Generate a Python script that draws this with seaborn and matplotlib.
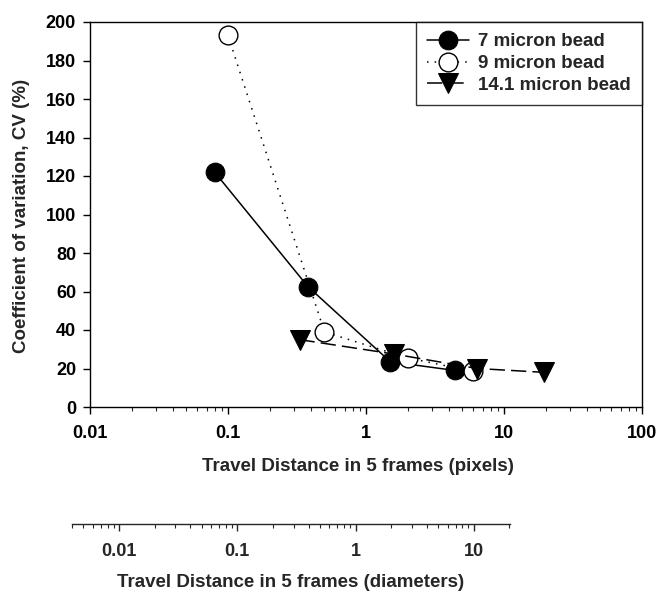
import numpy as np
import pandas as pd
import matplotlib
matplotlib.use("Agg")
import matplotlib.pyplot as plt
import seaborn as sns
from matplotlib.ticker import LogLocator, NullFormatter

sns.set_style("ticks")
plt.rcParams['font.family'] = ['Liberation Sans', 'DejaVu Sans']
plt.rcParams['font.weight'] = 'bold'

# data
x7 = [0.08, 0.38, 1.5, 4.4]
y7 = [122, 62.5, 23.5, 19]
x9 = [0.1, 0.5, 2.0, 6.0]
y9 = [193, 39, 25.5, 18.5]
x14 = [0.33, 1.6, 6.4, 19.5]
y14 = [35, 27.5, 20, 18]
labels = ["7 micron bead", "9 micron bead", "14.1 micron bead"]
yticks = [0, 20, 40, 60, 80, 100, 120, 140, 160, 180, 200]
xticks_px = [0.01, 0.1, 1, 10, 100]
xticks_px_labels = ["0.01", "0.1", "1", "10", "100"]
xticks_diam = [0.01, 0.1, 1, 10]
xticks_diam_labels = ["0.01", "0.1", "1", "10"]

TICK_FS = 13
LABEL_FS = 13.5
LEG_FS = 13.5

fig = plt.figure(figsize=(6.58, 5.93), dpi=100)
ax = fig.add_axes([90/658, (593-407)/593, 552/658, 385/593])

df7 = pd.DataFrame({"x": x7, "y": y7})
df9 = pd.DataFrame({"x": x9, "y": y9})
df14 = pd.DataFrame({"x": x14, "y": y14})

sns.lineplot(data=df7, x="x", y="y", ax=ax, color="black", lw=1.1, marker="o",
             markersize=13.5, markerfacecolor="black", markeredgecolor="black",
             linestyle="-", label=labels[0], sort=False, estimator=None)
sns.lineplot(data=df9, x="x", y="y", ax=ax, color="black", lw=1.1, marker="o",
             markersize=13.5, markerfacecolor="white", markeredgecolor="black",
             markeredgewidth=1.0, linestyle=(0, (1, 4)), label=labels[1],
             sort=False, estimator=None)
sns.lineplot(data=df14, x="x", y="y", ax=ax, color="black", lw=1.1, marker="v",
             markersize=14, markerfacecolor="black", markeredgecolor="black",
             linestyle=(0, (10, 4)), label=labels[2], sort=False, estimator=None)

ax.set_xscale("log")
ax.set_xlim(0.01, 100)
ax.set_ylim(0, 200)
ax.set_yticks(yticks)
ax.set_yticklabels([str(v) for v in yticks])
ax.set_xticks(xticks_px)
ax.set_xticklabels(xticks_px_labels)
ax.xaxis.set_minor_locator(LogLocator(base=10, subs=np.arange(2, 10)))
ax.xaxis.set_minor_formatter(NullFormatter())
for s in ax.spines.values():
    s.set_visible(True)
    s.set_linewidth(1.0)
    s.set_color("black")
ax.tick_params(axis="both", which="major", direction="out", length=5, width=1,
               labelsize=TICK_FS, pad=5, colors="black")
ax.tick_params(axis="x", which="minor", direction="out", length=3, width=0.8)
ax.tick_params(axis="x", which="major", pad=8)
for t in ax.get_xticklabels() + ax.get_yticklabels():
    t.set_fontweight("bold")
ax.set_xlabel("Travel Distance in 5 frames (pixels)", fontsize=LABEL_FS, fontweight="bold")
ax.set_ylabel("Coefficient of variation, CV (%)", fontsize=LABEL_FS, fontweight="bold")
ax.yaxis.set_label_coords(30/658, 1 - 216/593, transform=fig.transFigure)
ax.xaxis.set_label_coords(358/658, 1 - 458/593, transform=fig.transFigure)

leg = ax.legend(loc="upper right", frameon=True, fancybox=False, edgecolor="black",
                borderaxespad=0, fontsize=LEG_FS, handlelength=2.2, handletextpad=0.5,
                labelspacing=0.25, borderpad=0.6)
leg.get_frame().set_linewidth(1.0)
for t in leg.get_texts():
    t.set_fontweight("bold")

# secondary axis (diameters)
ax2 = fig.add_axes([72/658, (593-524)/593, 438/658, 0.0001])
ax2.set_xscale("log")
ax2.set_xlim(0.004, 20.2)
ax2.set_yticks([])
for k in ["top", "left", "right"]:
    ax2.spines[k].set_visible(False)
ax2.spines["bottom"].set_linewidth(1.0)
ax2.set_xticks(xticks_diam)
ax2.set_xticklabels(xticks_diam_labels)
ax2.xaxis.set_minor_locator(LogLocator(base=10, subs=np.arange(2, 10)))
ax2.xaxis.set_minor_formatter(NullFormatter())
ax2.tick_params(axis="x", which="major", direction="out", length=5, width=1,
                labelsize=TICK_FS, pad=9)
ax2.tick_params(axis="x", which="minor", direction="out", length=3, width=0.8)
for t in ax2.get_xticklabels():
    t.set_fontweight("bold")
ax2.set_xlabel("Travel Distance in 5 frames (diameters)", fontsize=LABEL_FS, fontweight="bold")
ax2.xaxis.set_label_coords(291/658, 1 - 574/593, transform=fig.transFigure)

fig.savefig("out.png", dpi=100)
